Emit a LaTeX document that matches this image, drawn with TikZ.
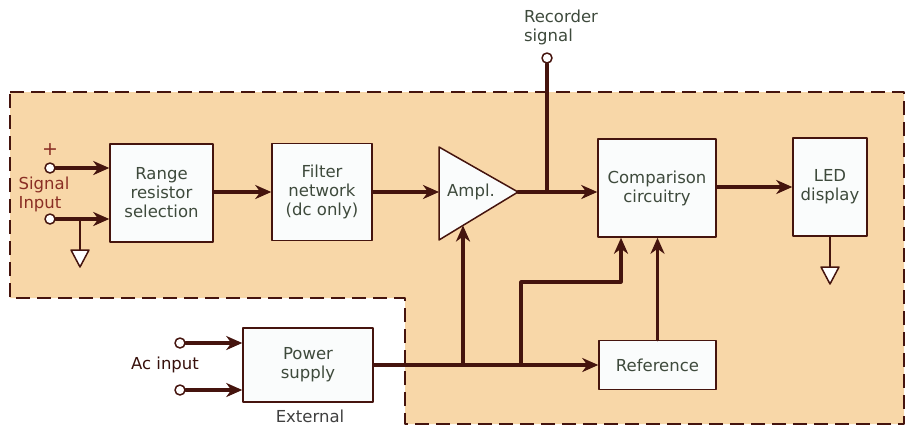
\documentclass[tikz,border=0pt]{standalone}
\usepackage{fontspec}
\setmainfont{DejaVu Sans}
\usetikzlibrary{arrows.meta}
\definecolor{panel}{HTML}{F8D7A8}
\definecolor{wire}{HTML}{45140E}
\definecolor{boxfill}{HTML}{FAFCFC}
\definecolor{lbl}{HTML}{3E4A3C}
\definecolor{sig}{HTML}{8A2E24}
\tikzset{
  blk/.style={draw=wire,line width=1.5pt,fill=boxfill,align=center,text=lbl,inner sep=0pt},
  conn/.style={draw=wire,line width=3.2pt},
  term/.style={circle,draw=wire,line width=1.5pt,fill=white,minimum size=10pt,inner sep=0pt},
  gnd/.style={draw=wire,line width=1.5pt,fill=white}
}
\begin{document}
\begin{tikzpicture}[x=1pt,y=-1pt,line cap=round,line join=round,>={Stealth[length=16pt,width=14pt,inset=5pt]},font=\fontsize{16.5}{19}\selectfont]
  \useasboundingbox (0,0) rectangle (908,429);
  % shaded panel
  \filldraw[fill=panel,draw=wire,line width=1.8pt,dash pattern=on 14pt off 7pt,line cap=butt]
    (10,92) -- (904,92) -- (904,424) -- (405,424) -- (405,298) -- (10,298) -- cycle;
  % blocks
  \node[blk,minimum width=103pt,minimum height=98pt] (range) at (161.5,193) {Range\\resistor\\selection};
  \node[blk,minimum width=100pt,minimum height=97pt] (filter) at (322,192) {Filter\\network\\(dc only)};
  \node[blk,minimum width=118pt,minimum height=98pt] (comp) at (657,188) {Comparison\\circuitry};
  \node[blk,minimum width=74pt,minimum height=98pt] (led) at (830,187) {LED\\display};
  \node[blk,minimum width=117pt,minimum height=49pt] (ref) at (657.5,365) {Reference};
  \node[blk,minimum width=130pt,minimum height=74pt] (psu) at (308,365) {Power\\supply};
  % amplifier
  \coordinate (ampin) at (439,192);
  \coordinate (ampout) at (518,192);
  \coordinate (amppwr) at (463,225.5);
  \filldraw[blk] (439,147) -- (ampout) -- (439,240) -- cycle;
  \node[text=lbl] (amplbl) at (471,192) {Ampl.};
  % terminals
  \node[term] (sigp) at (50,168) {};
  \node[term] (sign) at (50,219) {};
  \node[term] (rec) at (547,58) {};
  \node[term] (acp) at (180,343) {};
  \node[term] (acn) at (180,390) {};
  % labels
  \node[text=sig,font=\fontsize{19}{19}\selectfont] (plus) at (50,150) {+};
  \node[text=sig,align=left] (siglbl) at (44,194) {Signal\\Input};
  \node[text=lbl,align=left] (reclbl) at (561,27) {Recorder\\signal};
  \node[text=wire!80!black] (aclbl) at (165,365) {Ac input};
  \node[text=black!75] (extlbl) at (310,416) {External};
  % signal path
  \draw[conn,->] (sigp) -- (sigp -| range.west);
  \draw[conn,->] (sign) -- (sign -| range.west);
  \draw[conn,->] (range.east |- filter.west) -- (filter.west);
  \draw[conn,->] (filter.east) -- (ampin);
  \draw[conn,->] (ampout) -- (ampout -| comp.west);
  \coordinate (recj) at (547,192);
  \draw[conn] (recj) -- (rec);
  \draw[conn,->] (comp.east |- led.west) -- (led.west);
  % grounds
  \coordinate (gnda) at (80,219);
  \coordinate (gndb) at (830,267);
  \draw[conn,line width=2.4pt] (gnda) -- ++(0,31);
  \filldraw[gnd] (71,250) -- (89,250) -- (80,267) -- cycle;
  \draw[conn,line width=2.4pt] (led.south) -- (gndb);
  \filldraw[gnd] (821,267) -- (839,267) -- (830,284) -- cycle;
  % power distribution
  \draw[conn,->] (acp) -- (acp -| psu.west);
  \draw[conn,->] (acn) -- (acn -| psu.west);
  \draw[conn,->] (psu.east) -- (ref.west);
  \coordinate (j1) at (463,365);
  \coordinate (j2) at (521,365);
  \draw[conn,->] (j1) -- (amppwr);
  \draw[conn,->] (j2) -- (521,282) -- (621,282) -- (comp.south -| 621,0);
  \draw[conn,->] (ref.north) -- (ref.north |- comp.south);
\end{tikzpicture}
\end{document}
